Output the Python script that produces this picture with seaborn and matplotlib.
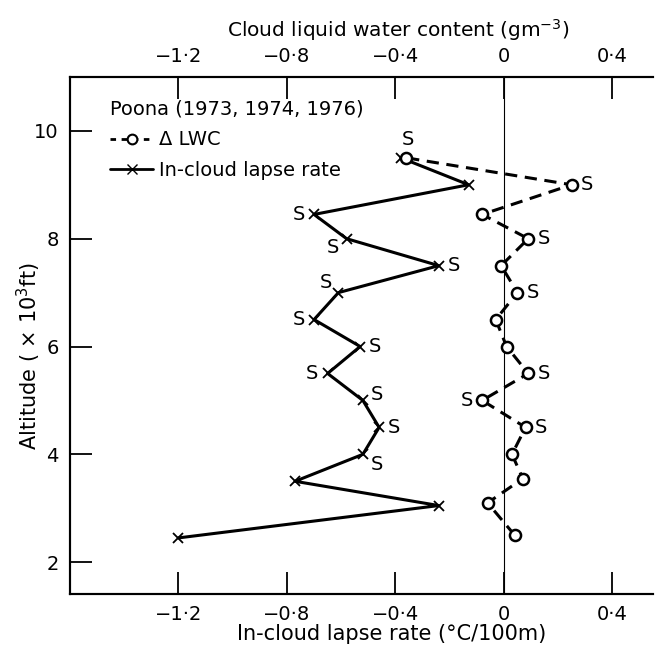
import matplotlib
matplotlib.use("Agg")
import matplotlib.pyplot as plt
import seaborn as sns
import pandas as pd
from matplotlib.lines import Line2D

# ---- data ----
lapse_alt = [2.45, 3.05, 3.5, 4.0, 4.5, 5.0, 5.5, 6.0, 6.5, 7.0, 7.5, 8.0, 8.45, 9.0, 9.5]
lapse_rate = [-1.2, -0.24, -0.77, -0.52, -0.46, -0.52, -0.65, -0.53, -0.70, -0.61, -0.24, -0.58, -0.70, -0.13, -0.38]
lapse_s = ["", "", "", "br", "r", "ur", "l", "r", "l", "ul", "r", "bl", "l", "", "up"]

lwc_alt = [2.5, 3.1, 3.55, 4.0, 4.5, 5.0, 5.5, 6.0, 6.5, 7.0, 7.5, 8.0, 8.45, 9.0, 9.5]
lwc = [0.04, -0.06, 0.07, 0.03, 0.08, -0.08, 0.09, 0.01, -0.03, 0.05, -0.01, 0.09, -0.08, 0.25, -0.36]
lwc_s = ["", "", "", "", "r", "l", "r", "", "", "r", "", "r", "", "r", ""]

x_ticks = [-1.2, -0.8, -0.4, 0, 0.4]
x_tick_labels = ["\u22121\u00b72", "\u22120\u00b78", "\u22120\u00b74", "0", "0\u00b74"]
y_ticks = [2, 4, 6, 8, 10]

# offsets (points) for the "S" flags
s_off = {"l": (-11, 0), "r": (11, 0), "up": (5, 13), "ul": (-9, 7),
         "ur": (10, 4), "bl": (-10, -6), "br": (10, -7)}

sns.set_style("ticks")
plt.rcParams["font.family"] = ["DejaVu Sans"]
plt.rcParams["axes.linewidth"] = 1.5
plt.rcParams["text.color"] = "black"
plt.rcParams["axes.labelcolor"] = "black"
plt.rcParams["xtick.color"] = "black"
plt.rcParams["ytick.color"] = "black"
plt.rcParams["axes.edgecolor"] = "black"

fig = plt.figure(figsize=(6.63, 6.51), dpi=100)
ax = fig.add_axes([0.1056, 0.0876, 0.8793, 0.7942])

df_lapse = pd.DataFrame({"alt": lapse_alt, "val": lapse_rate})
df_lwc = pd.DataFrame({"alt": lwc_alt, "val": lwc})

ax.axvline(0, color="black", lw=0.8, zorder=1)

sns.lineplot(data=df_lapse, x="val", y="alt", sort=False, estimator=None,
             errorbar=None, ax=ax, color="black",
             lw=2.2, marker="x", markersize=7, markeredgewidth=1.3,
             markeredgecolor="black", zorder=3)
sns.lineplot(data=df_lwc, x="val", y="alt", sort=False, estimator=None,
             errorbar=None, ax=ax, color="black",
             lw=2.2, linestyle=(0, (4, 2.5)), marker="o", markersize=8,
             markerfacecolor="white", markeredgecolor="black",
             markeredgewidth=1.8, zorder=3)

for xv, yv, s in zip(lapse_rate, lapse_alt, lapse_s):
    if s:
        ax.annotate("S", (xv, yv), xytext=s_off[s], textcoords="offset points",
                    ha="center", va="center", fontsize=14)
for xv, yv, s in zip(lwc, lwc_alt, lwc_s):
    if s:
        ax.annotate("S", (xv, yv), xytext=s_off[s], textcoords="offset points",
                    ha="center", va="center", fontsize=14)

ax.set_xlim(-1.6, 0.55)
ax.set_ylim(1.41, 11.0)
ax.set_xticks(x_ticks)
ax.set_xticklabels(x_tick_labels)
ax.set_yticks(y_ticks)
ax.tick_params(direction="in", length=16, width=1.3, labelsize=14, pad=8)
ax.spines["right"].set_visible(False)

ax.set_xlabel("In-cloud lapse rate (\u00b0C/100m)", fontsize=15)
ax.xaxis.set_label_coords(0.552, -0.058)
ax.set_ylabel("Altitude ( \u00d7 10$^3$ft)", fontsize=15)
ax.yaxis.set_label_coords(-0.046, 0.46)

top = ax.twiny()
top.set_xlim(ax.get_xlim())
top.set_xticks(x_ticks)
top.set_xticklabels(x_tick_labels)
top.tick_params(direction="in", length=16, width=1.3, labelsize=14, pad=8)
top.spines["right"].set_visible(False)
top.set_xlabel("Cloud liquid water content (gm$^{-3}$)", fontsize=14.5)
top.xaxis.set_label_coords(0.563, 1.077)

handles = [
    Line2D([], [], color="black", lw=2, linestyle=(0, (2, 2)), marker="o",
           markersize=7, markerfacecolor="white", markeredgewidth=1.5),
    Line2D([], [], color="black", lw=2, marker="x", markersize=7),
]
leg = ax.legend(handles, ["\u0394 LWC", "In-cloud lapse rate"],
                title="Poona (1973, 1974, 1976)", loc="upper left",
                bbox_to_anchor=(0.069, 0.956), borderpad=0,
                frameon=False, fontsize=14, title_fontsize=14,
                handlelength=2.2, handletextpad=0.3, borderaxespad=0,
                labelspacing=0.6)
leg._legend_box.align = "left"

fig.savefig("out.png", dpi=100)
